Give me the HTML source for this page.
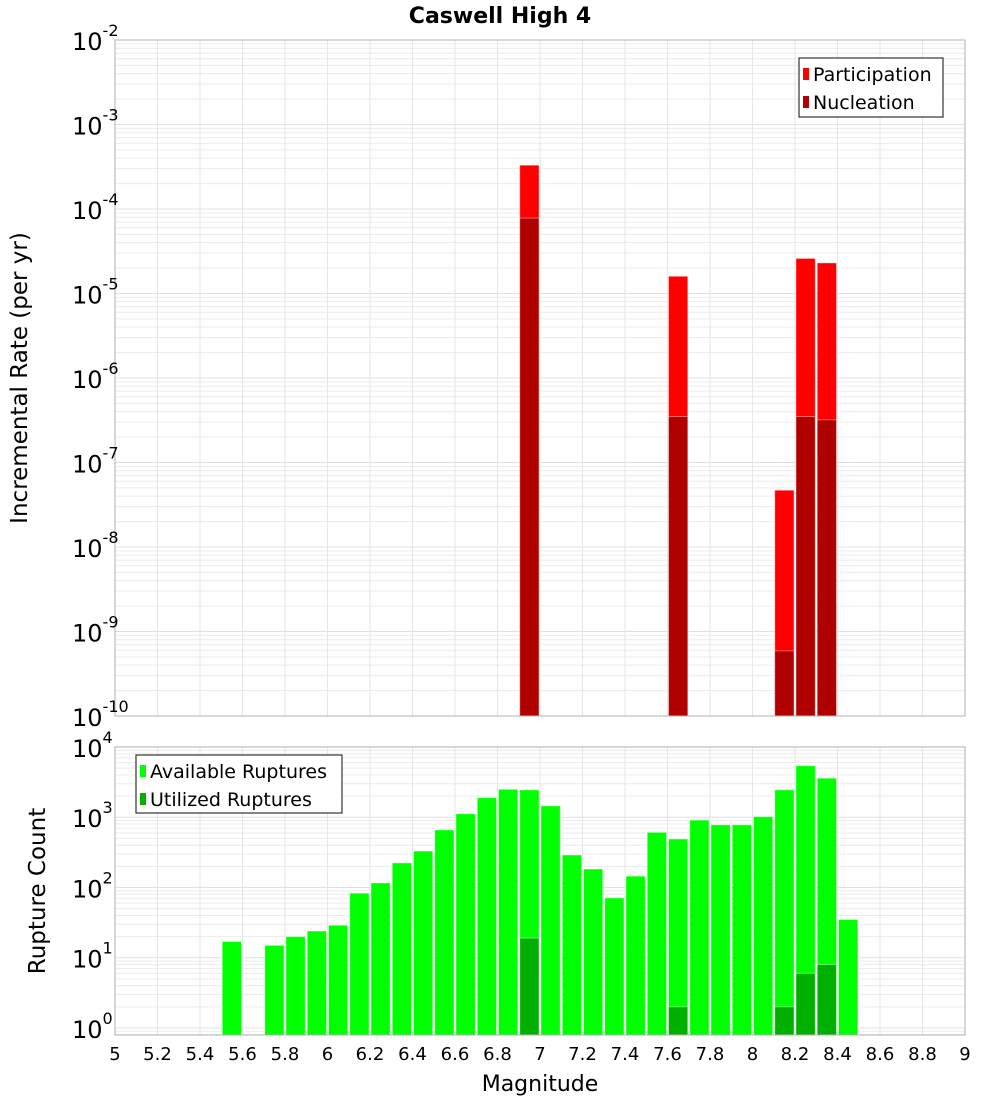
<!DOCTYPE html>
<html><head><meta charset="utf-8"><style>
body{margin:0;background:#fff;font-family:"Liberation Sans","DejaVu Sans",sans-serif}
svg text{font-family:"DejaVu Sans","Liberation Sans",sans-serif}
</style></head><body>
<svg id="chart" width="1000" height="1100" xmlns="http://www.w3.org/2000/svg">
<text x="500" y="23" text-anchor="middle" font-size="22" font-weight="bold">Caswell High 4</text>
<text transform="translate(27,378) rotate(-90)" text-anchor="middle" font-size="23">Incremental Rate (per yr)</text>
<text transform="translate(45,891) rotate(-90)" text-anchor="middle" font-size="23">Rupture Count</text>
<text x="540" y="1091" text-anchor="middle" font-size="22">Magnitude</text>
<g id="top"></g><g id="bot"></g>
</svg>
<script>
const topMags=[6.95,7.65,8.15,8.25,8.35];
const participation=[3.3e-4,1.6e-5,4.7e-8,2.6e-5,2.3e-5];
const nucleation=[7.8e-5,3.5e-7,5.9e-10,3.5e-7,3.2e-7];
const botMags=[5.55,5.75,5.85,5.95,6.05,6.15,6.25,6.35,6.45,6.55,6.65,6.75,6.85,6.95,7.05,7.15,7.25,7.35,7.45,7.55,7.65,7.75,7.85,7.95,8.05,8.15,8.25,8.35,8.45];
const available=[17,15,20,24,29,83,116,224,330,660,1120,1900,2500,2450,1450,290,183,71,145,610,490,910,780,780,1020,2450,5400,3600,35];
const utilizedMags=[6.95,7.65,8.15,8.25,8.35];
const utilized=[19,2,2,6,8];
const xTicks=[5,5.2,5.4,5.6,5.8,6,6.2,6.4,6.6,6.8,7,7.2,7.4,7.6,7.8,8,8.2,8.4,8.6,8.8,9];
const topDecades=[-10,-9,-8,-7,-6,-5,-4,-3,-2];
const botDecades=[0,1,2,3,4];

const NS="http://www.w3.org/2000/svg";
const L=115,R=965;
const xs=m=>L+(m-5)/4*(R-L);
function mk(parent,tag,attrs){const e=document.createElementNS(NS,tag);for(const k in attrs)e.setAttribute(k,attrs[k]);parent.appendChild(e);return e;}
function panel(g,top,bot,lmin,lmax,name){
  const ys=v=>bot-(Math.log10(v)-lmin)/(lmax-lmin)*(bot-top);
  const grid=mk(g,'g',{});
  
  
  for(let d=Math.floor(lmin);d<lmax;d++){for(let k=1;k<10;k++){const v=k*Math.pow(10,d);const lv=Math.log10(v);if(lv<lmin||lv>lmax)continue;const y=ys(v);mk(grid,'line',{x1:L,x2:R,y1:y,y2:y,stroke:k==1?'#e0e0e0':'#ececec','stroke-width':1});}}
  xTicks.forEach(t=>{const x=xs(t);mk(grid,'line',{x1:x,x2:x,y1:top,y2:bot,stroke:'#e6e6e6','stroke-width':1});});
  return ys;
}
function bar(g,m,v,ys,bot,fill,name){
  const x0=xs(m-0.05)+1,x1=xs(m+0.05)-1,y=ys(v);
  const r=mk(g,'rect',{x:x0,y:y,width:x1-x0,height:bot-y,fill:fill,stroke:'#fff','stroke-opacity':0.4,'stroke-width':1});
  
  
}
function yLabels(g,decs,ys,name){
  decs.forEach(d=>{const y=ys(Math.pow(10,d));const t=mk(g,'text',{x:72,y:y+10,'font-size':24});
    
    
    t.textContent='10';const s=mk(t,'tspan',{dy:-14,'font-size':16});s.textContent=String(d);});
}
// top
const gt=document.getElementById('top');
const T0=40,T1=716;
const yt=panel(gt,T0,T1,-10,-2,'top');
topMags.forEach((m,i)=>bar(gt,m,participation[i],yt,T1,'#ff0000','participation-bar'));
topMags.forEach((m,i)=>bar(gt,m,nucleation[i],yt,T1,'#b00000','nucleation-bar'));
mk(gt,'rect',{x:L,y:T0,width:R-L,height:T1-T0,fill:'none',stroke:'#b0b0b0'});
yLabels(gt,topDecades,yt,'top-y');
// bottom
const gb=document.getElementById('bot');
const B0=747,B1=1035;
const yb=panel(gb,B0,B1,-0.1,4,'bottom');
botMags.forEach((m,i)=>bar(gb,m,available[i],yb,B1,'#00ff00','available-bar'));
utilizedMags.forEach((m,i)=>bar(gb,m,utilized[i],yb,B1,'#00b000','utilized-bar'));
mk(gb,'rect',{x:L,y:B0,width:R-L,height:B1-B0,fill:'none',stroke:'#b0b0b0'});
yLabels(gb,botDecades,yb,'bottom-y');
xTicks.forEach(t=>{const e=mk(gb,'text',{x:xs(t),y:1060,'text-anchor':'middle','font-size':18});
  
  
  e.textContent=String(t);});
// legends
function legend(x,y,w,h,items,name){
  const g=mk(document.getElementById('chart'),'g',{});
  
  
  mk(g,'rect',{x:x,y:y,width:w,height:h,fill:'#fff',stroke:'#333','stroke-width':1.2});
  items.forEach((it,i)=>{const cy=y+16+i*28;mk(g,'rect',{x:x+4,y:cy-6,width:6,height:12,fill:it[1]});
    const t=mk(g,'text',{x:x+14,y:cy+7,'font-size':19});t.textContent=it[0];});
}
legend(799,58,144,59,[['Participation','#ff0000'],['Nucleation','#b00000']],'top-legend');
legend(136,755,206,58,[['Available Ruptures','#00ff00'],['Utilized Ruptures','#00b000']],'bottom-legend');
</script>
</body></html>
